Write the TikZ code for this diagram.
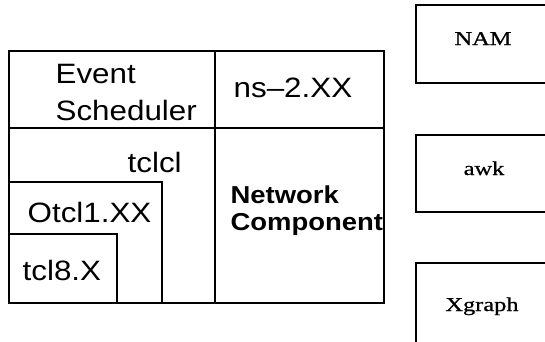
\documentclass[tikz,border=0pt]{standalone}
\usepackage{fontspec}
\newfontfamily\boxsans[FakeStretch=1.12,Ligatures=TeX]{Liberation Sans}
\newfontfamily\toolserif[FakeStretch=1.25,FakeBold=0.8]{Liberation Serif}
\tikzstyle{every picture}+=[remember picture]
\tikzstyle{lbl}=[inner sep=0pt,anchor=base west,font=\boxsans\fontsize{28}{37}\selectfont]
\tikzstyle{tool}=[inner sep=0pt,anchor=base,font=\toolserif\fontsize{19.5}{22}\selectfont]

\begin{document}
\begin{tikzpicture}[x=1pt,y=-1pt,line width=1.3pt]
		\useasboundingbox (0,0) rectangle (545,341);
		\clip (0,0) rectangle (545,341);
		% ns-2 block
		\draw[-] (9,51) rectangle (384,303);
		\draw[-] (215,51) -- (215,303);
		\draw[-] (9,128) -- (384,128);
		\draw[-] (9,182) -- (162,182) -- (162,303);
		\draw[-] (9,234) -- (117,234) -- (117,303);
		\node[lbl,align=left] (sched) at (55,120) {Event\\Scheduler};
		\node[lbl] (ns) at (233,97) {ns--2.XX};
		\node[lbl] (tclcl) at (127,172) {tclcl};
		\node[lbl] (otcl) at (27,222) {Otcl1.XX};
		\node[lbl] (tcl) at (22,280) {tcl8.X};
		\node[lbl,align=left,font=\boxsans\bfseries\fontsize{24.5}{27}\selectfont] (netcomp) at (230,230) {Network\\Component};
		% tools
		\draw[-] (550,5) -- (416,5) -- (416,83) -- (550,83);
		\draw[-] (550,135) -- (416,135) -- (416,212) -- (550,212);
		\draw[-] (550,263) -- (416,263) -- (416,350);
		\node[tool] (nam) at (483,45) {NAM};
		\node[tool] (awk) at (484,175) {awk};
		\node[tool] (xgraph) at (482,311) {Xgraph};
\end{tikzpicture}
\end{document}
